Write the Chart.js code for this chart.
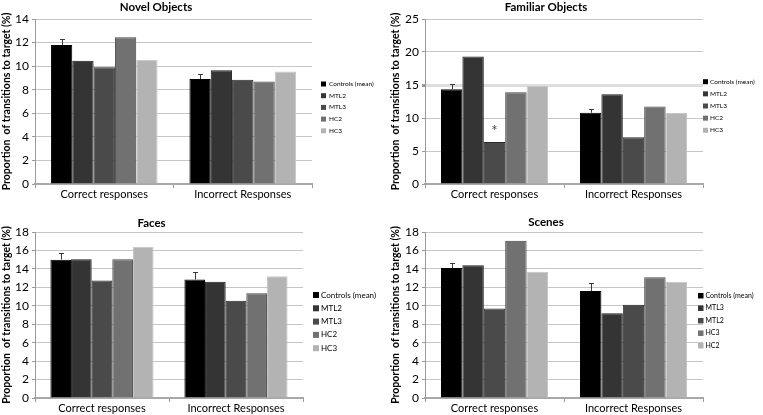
<!DOCTYPE html>
<html><head><meta charset="utf-8">
<script src="https://cdn.jsdelivr.net/npm/chart.js@4/dist/chart.umd.min.js"></script>
<style>
html,body{margin:0;padding:0;background:#fff;}
#wrap{position:relative;width:763px;height:415px;overflow:hidden;background:#fff;}
.p{position:absolute;}
canvas{display:block;}
</style></head><body>
<div id="wrap">
<div class="p" style="left:0;top:0;"><canvas id="c1" width="380" height="207" style="width:380px;height:207px"></canvas></div>
<div class="p" style="left:380px;top:0;"><canvas id="c2" width="383" height="207" style="width:383px;height:207px"></canvas></div>
<div class="p" style="left:0;top:207px;"><canvas id="c3" width="380" height="208" style="width:380px;height:208px"></canvas></div>
<div class="p" style="left:380px;top:207px;"><canvas id="c4" width="383" height="208" style="width:383px;height:208px"></canvas></div>
</div>
<script>
// ---------- data ----------
const categories = ['Correct responses', 'Incorrect Responses'];
const yAxisTitle = 'Proportion  of transitions to target (%)';

// Novel Objects
const novelTitle = 'Novel Objects';
const novelLabels = ['Controls (mean)', 'MTL2', 'MTL3', 'HC2', 'HC3'];
const novelControls = [11.8, 8.9];
const novelControlsErr = [0.5, 0.45];
const novelMTL2 = [10.45, 9.65];
const novelMTL3 = [9.9, 8.85];
const novelHC2 = [12.45, 8.7];
const novelHC3 = [10.55, 9.55];
const novelTicks = {max: 14, step: 2};

// Familiar Objects
const familiarTitle = 'Familiar Objects';
const familiarLabels = ['Controls (mean)', 'MTL2', 'MTL3', 'HC2', 'HC3'];
const familiarControls = [14.35, 10.8];
const familiarControlsErr = [0.75, 0.6];
const familiarMTL2 = [19.3, 13.6];
const familiarMTL3 = [6.35, 7.1];
const familiarHC2 = [13.9, 11.75];
const familiarHC3 = [14.85, 10.75];
const familiarTicks = {max: 25, step: 5};
const familiarStar = {text: '*', series: 2, category: 0};

// Faces
const facesTitle = 'Faces';
const facesLabels = ['Controls (mean)', 'MTL2', 'MTL3', 'HC2', 'HC3'];
const facesControls = [15.0, 12.85];
const facesControlsErr = [0.75, 0.85];
const facesMTL2 = [15.05, 12.6];
const facesMTL3 = [12.75, 10.55];
const facesHC2 = [15.05, 11.35];
const facesHC3 = [16.4, 13.2];
const facesTicks = {max: 18, step: 2};

// Scenes
const scenesTitle = 'Scenes';
const scenesLabels = ['Controls (mean)', 'MTL3', 'MTL2', 'HC3', 'HC2'];
const scenesControls = [14.1, 11.6];
const scenesControlsErr = [0.5, 0.9];
const scenesMTL3 = [14.4, 9.2];
const scenesMTL2 = [9.7, 10.1];
const scenesHC3 = [17.05, 13.1];
const scenesHC2 = [13.7, 12.6];
const scenesTicks = {max: 18, step: 2};

// ---------- styling ----------
const FONT = 'Lato, "Open Sans", sans-serif';
const fills = ['#000000', '#343434', '#4a4a4a', '#717171', '#b3b3b3'];
const borders = ['#000000', '#1c1c1c', '#2a2a2a', '#464646', '#c6c6c6'];

const sideLegend = {
  id: 'sideLegend',
  afterDraw(chart, args, o) {
    const ctx = chart.ctx;
    ctx.save();
    ctx.font = o.fontSize + 'px ' + FONT;
    ctx.textBaseline = 'middle';
    ctx.textAlign = 'left';
    chart.data.datasets.forEach((ds, i) => {
      const y = o.y0 + i * o.dy;
      ctx.fillStyle = ds.backgroundColor;
      ctx.fillRect(o.x, y - o.box / 2, o.box, o.box);
      ctx.fillStyle = '#000';
      ctx.fillText(ds.label, o.x + o.box + o.gap, y);
    });
    ctx.restore();
  }
};

const errorBars = {
  id: 'errorBars',
  afterDatasetsDraw(chart, args, o) {
    if (!o.err) return;
    const ctx = chart.ctx;
    const ys = chart.scales.y;
    const meta = chart.getDatasetMeta(0);
    ctx.save();
    ctx.strokeStyle = '#3a3a3a';
    ctx.lineWidth = 1;
    meta.data.forEach((bar, i) => {
      const v = chart.data.datasets[0].data[i];
      const top = Math.round(ys.getPixelForValue(v + o.err[i])) + 0.5;
      const x = Math.round(bar.x) + 0.5;
      ctx.beginPath();
      ctx.moveTo(x, bar.y);
      ctx.lineTo(x, top);
      ctx.moveTo(x - 2.5, top);
      ctx.lineTo(x + 2.5, top);
      ctx.stroke();
    });
    if (o.star) {
      const s = o.star;
      const bar = chart.getDatasetMeta(s.series).data[s.category];
      ctx.fillStyle = '#444';
      ctx.font = '15px ' + FONT;
      ctx.textAlign = 'center';
      ctx.textBaseline = 'middle';
      ctx.fillText(s.text, bar.x, bar.y - 11);
    }
    ctx.restore();
  }
};

function makeChart(id, cfg) {
  const datasets = cfg.labels.map((lab, i) => ({
    label: lab,
    data: cfg.series[i],
    backgroundColor: fills[i],
    borderColor: borders[i],
    borderWidth: 1,
    barPercentage: 1,
    categoryPercentage: 0.77
  }));
  const isHi = (c) => cfg.highlight !== undefined && c.tick && c.tick.value === cfg.highlight;
  return new Chart(document.getElementById(id), {
    type: 'bar',
    data: {labels: categories, datasets},
    plugins: [sideLegend, errorBars],
    options: {
      responsive: false,
      animation: false,
      devicePixelRatio: 1,
      layout: {padding: {left: cfg.padLeft, right: cfg.padRight, top: 0, bottom: 0}},
      plugins: {
        legend: {display: false},
        tooltip: {enabled: false},
        title: {
          display: true, text: cfg.title, color: '#000',
          font: {family: FONT, size: 11.5, weight: 'bold', lineHeight: 1.2},
          padding: {top: cfg.titleTop, bottom: cfg.titleBottom}
        },
        sideLegend: cfg.legend,
        errorBars: {err: cfg.err, star: cfg.star}
      },
      scales: {
        x: {
          ticks: {font: {family: FONT, size: 11}, color: '#000', padding: 0},
          grid: {display: true, drawOnChartArea: false, offset: true, tickLength: 4, color: '#9a9a9a'},
          border: {color: '#a8a8a8', width: 2},
          afterFit(s) { s.height = cfg.xHeight; }
        },
        y: {
          min: 0, max: cfg.ticks.max,
          ticks: {stepSize: cfg.ticks.step, font: {family: FONT, size: 12}, color: '#000', padding: 3},
          grid: {
            color: (c) => isHi(c) ? '#dedede' : '#c6c6c6',
            lineWidth: (c) => isHi(c) ? 3 : 1,
            tickLength: 3, tickColor: '#9a9a9a'
          },
          border: {color: '#9a9a9a', width: 1},
          title: {display: true, text: yAxisTitle, color: '#000', padding: 0,
                  font: {family: FONT, size: 10.5, weight: 'bold', lineHeight: 1.2}},
          afterFit(s) { s.width = cfg.yWidth; }
        }
      }
    }
  });
}

makeChart('c1', {
  title: novelTitle, labels: novelLabels,
  series: [novelControls, novelMTL2, novelMTL3, novelHC2, novelHC3],
  err: novelControlsErr, ticks: novelTicks,
  padLeft: 0, yWidth: 35, padRight: 68, titleTop: 0, titleBottom: 5.2, xHeight: 23,
  legend: {x: 321, y0: 84, dy: 11.7, box: 5, gap: 3, fontSize: 6.5}
});
makeChart('c2', {
  title: familiarTitle, labels: familiarLabels,
  series: [familiarControls, familiarMTL2, familiarMTL3, familiarHC2, familiarHC3],
  err: familiarControlsErr, ticks: familiarTicks, star: familiarStar, highlight: 15,
  padLeft: 9, yWidth: 36, padRight: 60, titleTop: 0, titleBottom: 5.2, xHeight: 23,
  legend: {x: 323, y0: 81.7, dy: 12.15, box: 5, gap: 2, fontSize: 6.5}
});
makeChart('c3', {
  title: facesTitle, labels: facesLabels,
  series: [facesControls, facesMTL2, facesMTL3, facesHC2, facesHC3],
  err: facesControlsErr, ticks: facesTicks,
  padLeft: 0, yWidth: 35, padRight: 77, titleTop: 9.1, titleBottom: 2.1, xHeight: 17,
  legend: {x: 313, y0: 88, dy: 13.3, box: 6, gap: 2, fontSize: 8}
});
makeChart('c4', {
  title: scenesTitle, labels: scenesLabels,
  series: [scenesControls, scenesMTL3, scenesMTL2, scenesHC3, scenesHC2],
  err: scenesControlsErr, ticks: scenesTicks,
  padLeft: 9, yWidth: 36, padRight: 60, titleTop: 8.1, titleBottom: 3.1, xHeight: 17,
  legend: {x: 318, y0: 88.7, dy: 12.5, box: 5.5, gap: 2, fontSize: 7}
});
</script>
</body></html>
